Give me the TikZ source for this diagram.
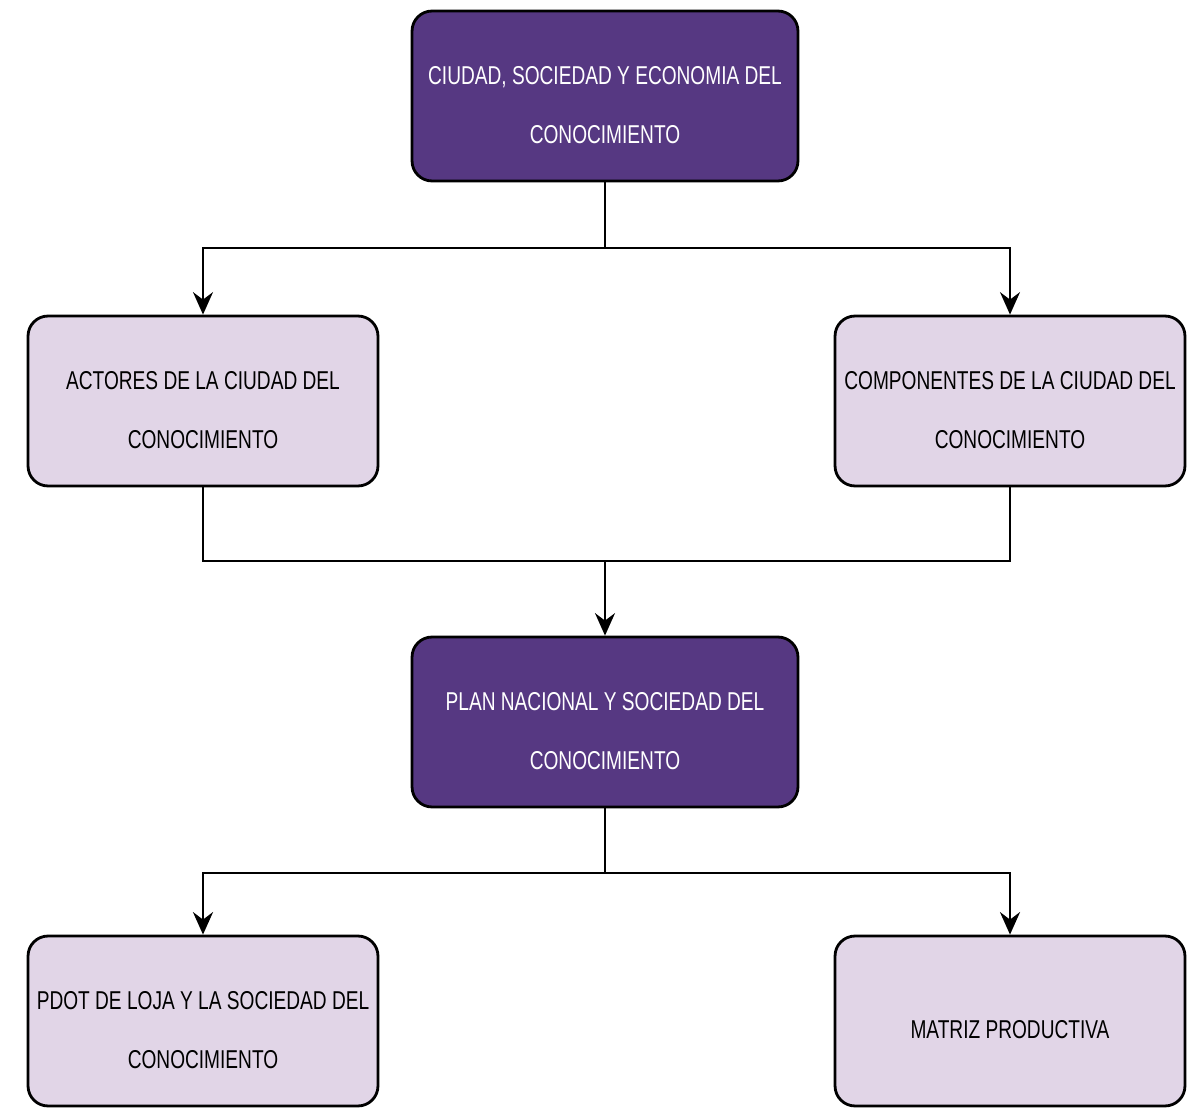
\documentclass[tikz,border=0pt]{standalone}
\usepackage{fontspec}
\setmainfont{Liberation Sans}[FakeStretch=0.74]
\usepackage{tikz}
\usetikzlibrary{arrows.meta}
\definecolor{darkviolet}{RGB}{86,56,130}
\definecolor{lightviolet}{RGB}{225,213,231}
\newcommand{\topgap}{\rule{0pt}{0.72cm}}
\tikzset{
  box/.style={draw, line width=1.6pt, rounded corners=0.4cm, minimum height=3.4cm,
    align=center, font=\fontsize{14.7}{34}\selectfont},
  mainbox/.style={box, fill=darkviolet, text=white, minimum width=7.72cm},
  subbox/.style={box, fill=lightviolet, minimum width=7cm},
  link/.style={line width=1.1pt},
  arrowlink/.style={link, -{Stealth[length=0.45cm,width=0.4cm,inset=0.15cm]}},
}

\begin{document}
\begin{tikzpicture}[x=0.02cm,y=-0.02cm]
\useasboundingbox (0,0) rectangle (1194,1108);
\node[mainbox] (ciudad) at (605,96) {\topgap CIUDAD, SOCIEDAD Y ECONOMIA DEL\\CONOCIMIENTO};
\node[subbox] (actores) at (203,401) {\topgap ACTORES DE LA CIUDAD DEL\\CONOCIMIENTO};
\node[subbox] (componentes) at (1010,401) {\topgap COMPONENTES DE LA CIUDAD DEL\\CONOCIMIENTO};
\node[mainbox] (plan) at (605,722) {\topgap PLAN NACIONAL Y SOCIEDAD DEL\\CONOCIMIENTO};
\node[subbox] (pdot) at (203,1021) {\topgap PDOT DE LOJA Y LA SOCIEDAD DEL\\CONOCIMIENTO};
\node[subbox] (matriz) at (1010,1021) {\topgap MATRIZ PRODUCTIVA};
\coordinate (split1) at (605,248);
\coordinate (join1) at (605,561);
\coordinate (split2) at (605,873);
\draw[link] (ciudad) -- (split1);
\draw[arrowlink] (split1) -| (actores);
\draw[arrowlink] (split1) -| (componentes);
\draw[link] (actores) |- (join1) -| (componentes);
\draw[arrowlink] (join1) -- (plan);
\draw[link] (plan) -- (split2);
\draw[arrowlink, line width=1.6pt] (split2) -| (pdot);
\draw[arrowlink, line width=1.6pt] (split2) -| (matriz);
\end{tikzpicture}
\end{document}
